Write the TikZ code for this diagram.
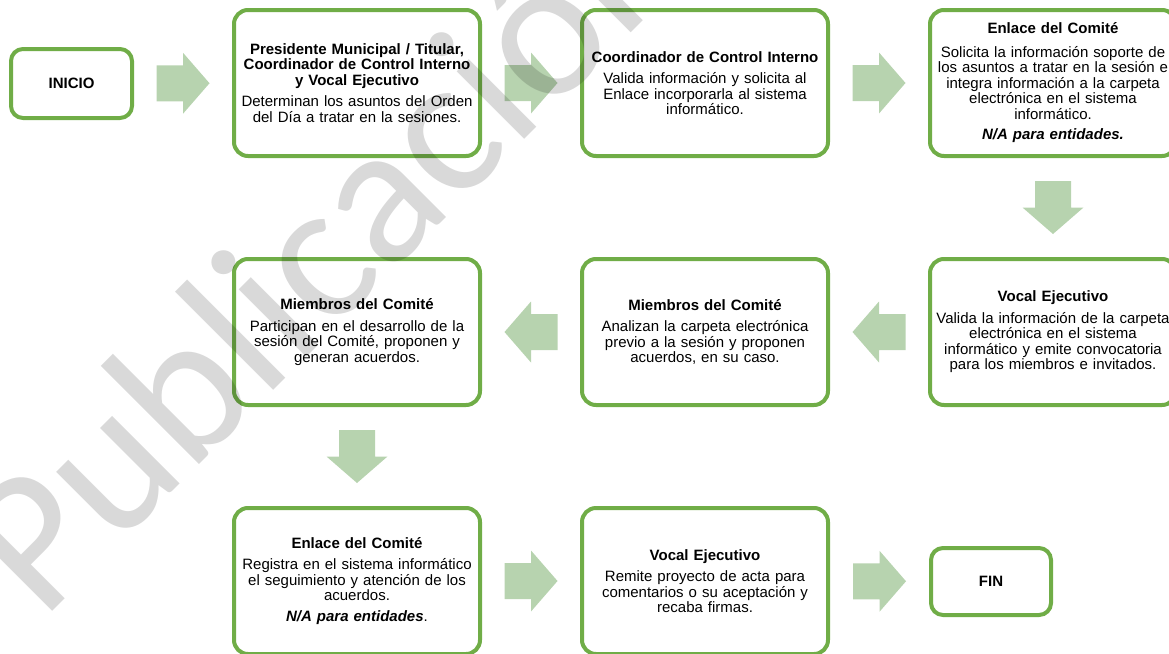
\documentclass[tikz,border=0pt]{standalone}
\usepackage{fontspec}
\setmainfont{Liberation Sans}
\newfontfamily\wmfont{Carlito}
\usetikzlibrary{calc}
\definecolor{boxgreen}{HTML}{70AD47}
\definecolor{arrowgreen}{HTML}{B7D3AF}
\begin{document}
\begin{tikzpicture}[x=1pt,y=-1pt,
  bigbox/.style={draw=boxgreen, line width=4pt, rounded corners=14pt, fill=white,
    align=center, text width=246pt, inner xsep=0pt, inner ysep=0pt,
    minimum height=146pt, font=\fontsize{15}{15.5}\selectfont},
  smallbox/.style={draw=boxgreen, line width=4pt, rounded corners=12pt, fill=white,
    align=center, inner sep=0pt, font=\fontsize{15}{15.5}\selectfont\bfseries},
  blockarrow/.pic={\fill[arrowgreen] (-26.5,-18) -- (0,-18) -- (0,-30.5) -- (26.5,0)
      -- (0,30.5) -- (0,18) -- (-26.5,18) -- cycle;},
  watermark/.style={text=black, text opacity=0.15, inner sep=0pt,
    font=\wmfont\fontsize{200}{200}\selectfont}
]
\useasboundingbox (0,0) rectangle (1169,653);

% row 1
\node[smallbox, minimum width=121pt, minimum height=69pt] (inicio) at (71.5,83.5) {INICIO};
\node[bigbox] (p1) at (357,83) {\textbf{Presidente Municipal / Titular,}\\\textbf{Coordinador de Control Interno}\\\textbf{y Vocal Ejecutivo}\\[6pt]Determinan los asuntos del Orden\\del Día a tratar en la sesiones.};
\node[bigbox] (p2) at (705,83) {\textbf{Coordinador de Control Interno}\\[6pt]Valida información y solicita al\\Enlace incorporarla al sistema\\informático.};
\node[bigbox] (p3) at (1053,83) {\textbf{Enlace del Comité}\\[8pt]Solicita la información soporte de\\los asuntos a tratar en la sesión e\\integra información a la carpeta\\electrónica en el sistema\\informático.\\[5pt]\textbf{\textit{N/A para entidades.}}\\[-5pt]};

% row 2
\node[bigbox] (p4) at (1053,332) {\textbf{Vocal Ejecutivo}\\[6pt]Valida la información de la carpeta\\electrónica en el sistema\\informático y emite convocatoria\\para los miembros e invitados.};
\node[bigbox] (p5) at (705,332) {\textbf{Miembros del Comité}\\[6pt]Analizan la carpeta electrónica\\previo a la sesión y proponen\\acuerdos, en su caso.};
\node[bigbox] (p6) at (357,332) {\textbf{Miembros del Comité}\\[6pt]Participan en el desarrollo de la\\sesión del Comité, proponen y\\generan acuerdos.};

% row 3
\node[bigbox] (p7) at (357,581) {\textbf{Enlace del Comité}\\[6pt]Registra en el sistema informático\\el seguimiento y atención de los\\acuerdos.\\[5pt]\textbf{\textit{N/A para entidades}}.};
\node[bigbox] (p8) at (705,581) {\textbf{Vocal Ejecutivo}\\[6pt]Remite proyecto de acta para\\comentarios o su aceptación y\\recaba firmas.};
\node[smallbox, minimum width=120pt, minimum height=67pt] (fin) at (991,581.5) {FIN};

% block arrows
\pic at ($(inicio.east)!0.5!(p1.west)$) {blockarrow};
\pic at ($(p1.east)!0.5!(p2.west)$) {blockarrow};
\pic at ($(p2.east)!0.5!(p3.west)$) {blockarrow};
\pic[rotate=-90] at ($(p3.south)!0.5!(p4.north)$) {blockarrow};
\pic[rotate=180] at ($(p4.west)!0.5!(p5.east)$) {blockarrow};
\pic[rotate=180] at ($(p5.west)!0.5!(p6.east)$) {blockarrow};
\pic[rotate=-90] at ($(p6.south)!0.5!(p7.north)$) {blockarrow};
\pic at ($(p7.east)!0.5!(p8.west)$) {blockarrow};
\pic at ($(p8.east)!0.5!(fin.west)$) {blockarrow};

% watermark
\node[watermark, rotate=45, anchor=base west] (wm) at (42,622) {Publicación};
\end{tikzpicture}
\end{document}
